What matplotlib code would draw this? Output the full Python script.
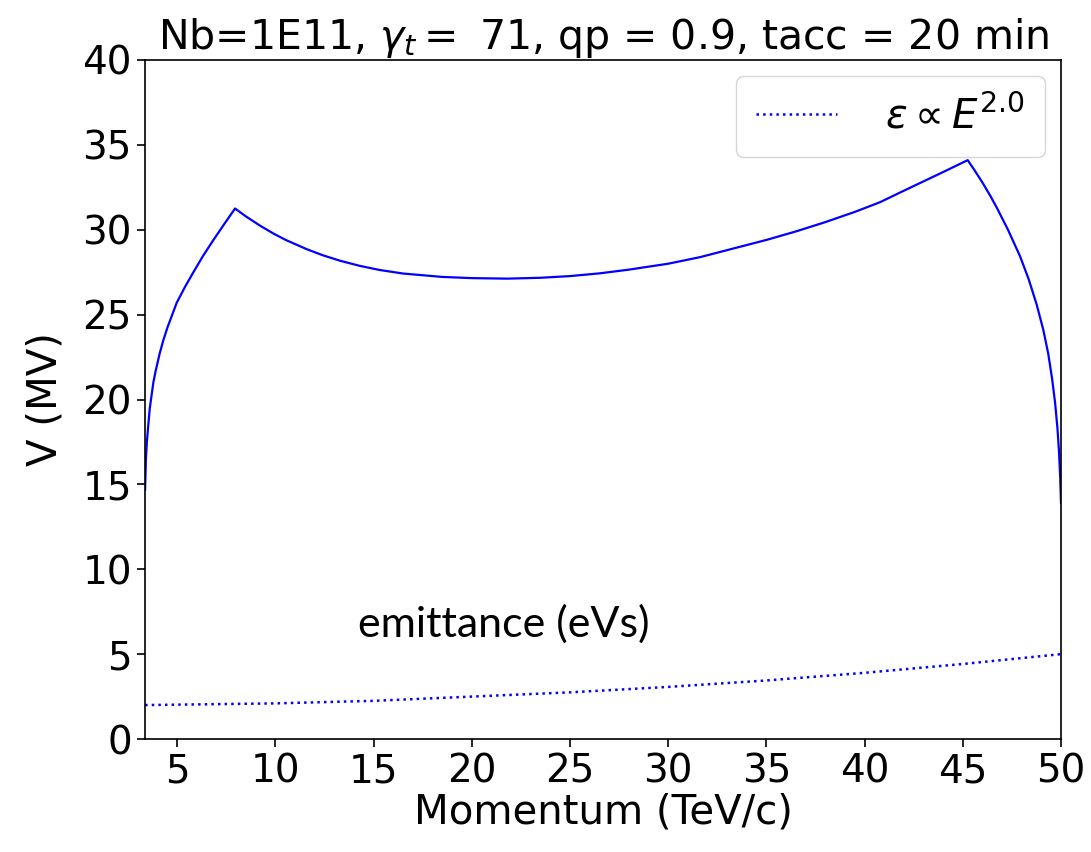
import matplotlib
matplotlib.use("Agg")
import matplotlib.pyplot as plt
import numpy as np

# Voltage program (MV) vs momentum (TeV/c)
p_v = [3.36, 3.40, 3.45, 3.53, 3.60, 3.78, 3.90, 4.10, 4.29, 4.50, 4.97, 5.40,
       5.82, 6.30, 6.84, 7.40, 7.94, 8.50, 9.20, 9.89, 10.5, 11.6, 12.4, 13.3,
       14.3, 15.3, 16.5, 18.5, 20.0, 21.8, 23.5, 25.0, 26.5, 28.0, 30.0, 31.6,
       33.0, 35.0, 36.5, 38.0, 39.5, 40.8, 42.0, 43.0, 44.0, 45.25, 45.6, 46.0,
       46.4, 46.73, 47.3, 47.91, 48.35, 48.76, 49.1, 49.35, 49.55, 49.7, 49.82,
       49.9, 49.96, 50.0]
volt = [14.7, 16.5, 17.5, 18.6, 19.5, 21.0, 21.7, 22.7, 23.5, 24.25, 25.7, 26.65,
        27.5, 28.44, 29.4, 30.35, 31.25, 30.78, 30.25, 29.78, 29.41, 28.85, 28.5, 28.17,
        27.87, 27.63, 27.42, 27.22, 27.15, 27.12, 27.17, 27.27, 27.43, 27.65, 28.0, 28.38,
        28.8, 29.4, 29.9, 30.45, 31.05, 31.63, 32.3, 32.85, 33.4, 34.1, 33.5, 32.78,
        32.0, 31.3, 30.0, 28.45, 27.1, 25.6, 24.1, 22.7, 21.2, 19.8, 18.3,
        16.9, 15.4, 13.9]

# Emittance (eVs) vs momentum
p_e = [3.36, 10, 15, 20, 25, 30, 35, 40, 45, 50]
emit = [2.0, 2.1, 2.25, 2.5, 2.75, 3.07, 3.45, 3.9, 4.42, 5.0]

xticks = [5, 10, 15, 20, 25, 30, 35, 40, 45, 50]
yticks = [0, 5, 10, 15, 20, 25, 30, 35, 40]

plt.rcParams['font.family'] = ['DejaVu Sans']
fig = plt.figure(figsize=(10.91, 8.52), dpi=100)
ax = fig.add_axes([0.133, 0.1326, 0.8395, 0.797])

ax.plot(p_v, volt, color='blue', lw=1.6)
ax.plot(p_e, emit, color='blue', lw=1.8, ls=':', label=r'$\varepsilon \propto E^{2.0}$')

ax.set_xlim(3.36, 50)
ax.set_ylim(0, 40)
ax.set_xticks(xticks)
ax.set_yticks(yticks)
ax.tick_params(labelsize=28, length=6, width=1.2)
for s in ax.spines.values():
    s.set_linewidth(1.2)

ax.set_xlabel('Momentum (TeV/c)', fontsize=29, labelpad=2)
ax.set_ylabel('V (MV)', fontsize=29, labelpad=12)
ax.set_title(r'Nb=1E11, $\gamma_t=$ 71, qp = 0.9, tacc = 20 min', fontsize=29.5, pad=6)

ax.text(14.2, 6.8, 'emittance (eVs)', fontsize=31, family=['Lato', 'DejaVu Sans'],
        va='center', ha='left')

leg = ax.legend(loc='upper right', fontsize=29, handlelength=2.0, borderpad=0.5,
                handletextpad=1.2, borderaxespad=0.4)

fig.savefig('out.png', dpi=100)
